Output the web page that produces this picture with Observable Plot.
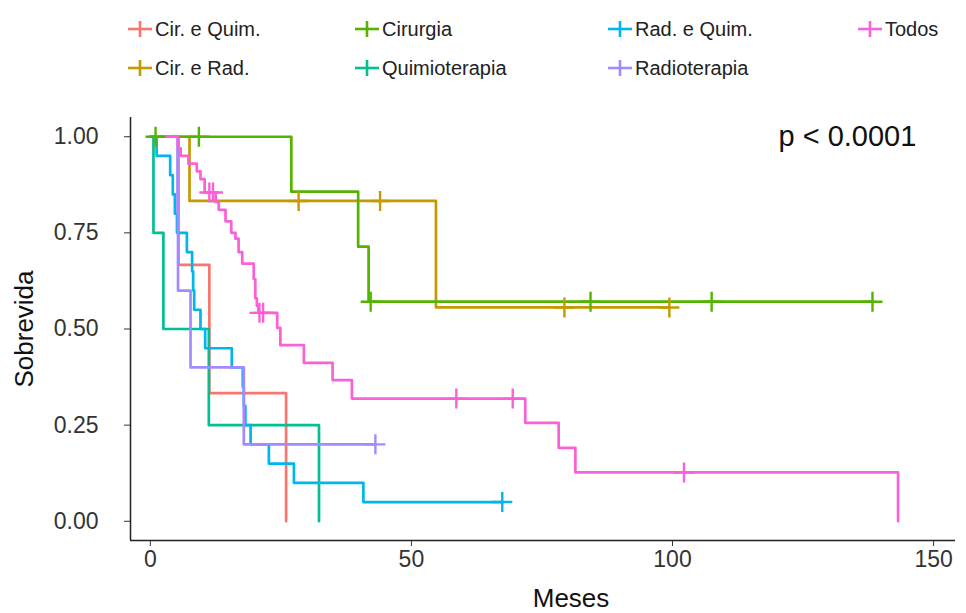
<!DOCTYPE html>
<html><head><meta charset="utf-8">
<script src="https://cdn.jsdelivr.net/npm/d3@7"></script>
<script src="https://cdn.jsdelivr.net/npm/@observablehq/plot@0.6"></script>
<style>
body{margin:0;background:#fff;font-family:"Liberation Sans",Arial,sans-serif;}
#wrap{position:relative;width:966px;height:613px;overflow:hidden;}
#legend{position:relative;width:966px;height:80px;}
.item{position:absolute;display:flex;align-items:center;height:30px;font-size:20px;color:#222;white-space:nowrap;}
.item svg{margin-right:3px;}
</style></head><body>
<div id="wrap"><div id="legend"></div><div id="chart"></div></div>
<script>
const groups = ["Cir. e Quim.","Cir. e Rad.","Cirurgia","Quimioterapia","Rad. e Quim.","Radioterapia","Todos"];
const colors = ["#F8766D","#C49A00","#53B400","#00C094","#00B6EB","#A58AFF","#FB61D7"];
// event times (months) and survival right after each drop; censor times
const cirQuimT = [5.4, 11.3, 26.0];
const cirQuimS = [0.667, 0.333, 0];
const cirQuimC = [];
const cirRadT = [7.5, 54.7];
const cirRadS = [0.833, 0.556];
const cirRadC = [28.4, 44.0, 79.3, 99.4];
const cirurgiaT = [27.0, 39.8, 41.8];
const cirurgiaS = [0.857, 0.714, 0.571];
const cirurgiaC = [1.0, 9.3, 42.2, 84.3, 107.5, 138.3];
const quimioT = [0.6, 2.5, 11.2, 32.3];
const quimioS = [0.75, 0.5, 0.25, 0];
const quimioC = [];
const radQuimT = [1.2,3.8,4.3,4.7,5.1,7.0,8.0,8.2,8.4,9.6,10.5,15.6,17.7,17.9,18.2,19.2,22.7,27.5,40.8];
const radQuimS = [0.95,0.90,0.85,0.80,0.75,0.70,0.65,0.60,0.55,0.50,0.45,0.40,0.35,0.30,0.25,0.20,0.15,0.10,0.05];
const radQuimC = [67.4];
const radioT = [5.2, 5.3, 7.7, 17.9];
const radioS = [0.8, 0.6, 0.4, 0.2];
const radioC = [43.1];
const todosT = [5.3,5.8,7.3,8.9,9.6,10.4,12.5,13.1,14.4,15.5,16.3,16.9,17.6,19.8,20.1,20.4,20.7,24.3,24.9,29.4,34.9,38.6,71.8,78.2,81.4,143.2];
const todosS = [0.97,0.95,0.93,0.91,0.89,0.855,0.83,0.81,0.78,0.75,0.735,0.70,0.67,0.63,0.58,0.56,0.542,0.503,0.458,0.412,0.367,0.319,0.256,0.191,0.127,0];
const todosC = [11.3,12.0,20.9,21.6,58.6,69.4,102.2];

const xTicks = [0, 50, 100, 150];
const yTicks = [0, 0.25, 0.5, 0.75, 1];
const pvalLabel = "p < 0.0001";
const pvalX = 120.3, pvalY = 1.0;

const series = [
  {g: groups[0], T: cirQuimT, S: cirQuimS, C: cirQuimC},
  {g: groups[1], T: cirRadT, S: cirRadS, C: cirRadC},
  {g: groups[2], T: cirurgiaT, S: cirurgiaS, C: cirurgiaC},
  {g: groups[3], T: quimioT, S: quimioS, C: quimioC},
  {g: groups[4], T: radQuimT, S: radQuimS, C: radQuimC},
  {g: groups[5], T: radioT, S: radioS, C: radioC},
  {g: groups[6], T: todosT, S: todosS, C: todosC}
];

const lineRows = [], censRows = [];
series.forEach(({g, T, S, C}) => {
  lineRows.push({g, t: 0, s: 1});
  T.forEach((t, i) => lineRows.push({g, t, s: S[i]}));
  const surv = c => { let v = 1; T.forEach((t, i) => { if (t <= c) v = S[i]; }); return v; };
  C.forEach(c => censRows.push({g, t: c, s: surv(c)}));
  const lastC = C.length ? Math.max(...C) : 0;
  if (lastC > T[T.length - 1]) lineRows.push({g, t: lastC, s: S[S.length - 1]});
});

// legend (column-major, 2 rows)
const legendLeft = [128, 355, 608, 858];
const legendTop = [14, 53];
const legend = document.getElementById("legend");
groups.forEach((g, i) => {
  const col = Math.floor(i / 2), row = i % 2;
  const d = document.createElement("div");
  d.className = "item";
  d.style.left = legendLeft[col] + "px";
  d.style.top = legendTop[row] + "px";
  d.innerHTML = `<svg width="24" height="18"><line x1="0" x2="24" y1="9" y2="9" stroke="${colors[i]}" stroke-width="2.6"/><line x1="12" x2="12" y1="1" y2="17" stroke="${colors[i]}" stroke-width="2.6"/></svg><span>${g}</span>`;
  legend.appendChild(d);
});

const xDomain = [-3.8, 154.2], yDomain = [-0.05, 1.05];
const chart = Plot.plot({
  width: 966, height: 533,
  marginTop: 37, marginBottom: 73, marginLeft: 130, marginRight: 11,
  x: {domain: xDomain},
  y: {domain: yDomain},
  color: {domain: groups, range: colors},
  style: {fontFamily: '"Liberation Sans", Arial, sans-serif', background: "#fff"},
  marks: [
    Plot.axisX({ticks: xTicks, tickSize: 6, tickPadding: 4, fontSize: 23, label: null, color: "#333"}),
    Plot.axisY({ticks: yTicks, tickFormat: d3.format(".2f"), tickSize: 6, tickPadding: 26, fontSize: 23, label: null, color: "#333"}),
    Plot.ruleX([xDomain[0]], {stroke: "#222", strokeWidth: 1.5}),
    Plot.ruleY([yDomain[0]], {stroke: "#222", strokeWidth: 1.5}),
    Plot.line(lineRows, {x: "t", y: "s", z: "g", stroke: "g", curve: "step-after", strokeWidth: 2.7}),
    Plot.dot(censRows, {x: "t", y: "s", stroke: "g", symbol: "plus", r: 6.5, strokeWidth: 2.4}),
    Plot.text([{t: pvalX, s: pvalY, label: pvalLabel}], {x: "t", y: "s", text: "label", textAnchor: "start", fontSize: 29, fill: "#111"}),
    Plot.text(["Sobrevida"], {frameAnchor: "left", rotate: -90, dx: -106, textAnchor: "middle", lineAnchor: "middle", fontSize: 26, fill: "#111"}),
    Plot.text(["Meses"], {frameAnchor: "bottom", dx: 28, dy: 58, lineAnchor: "middle", fontSize: 26, fill: "#111"})
  ]
});
document.getElementById("chart").appendChild(chart);
</script>
</body></html>
